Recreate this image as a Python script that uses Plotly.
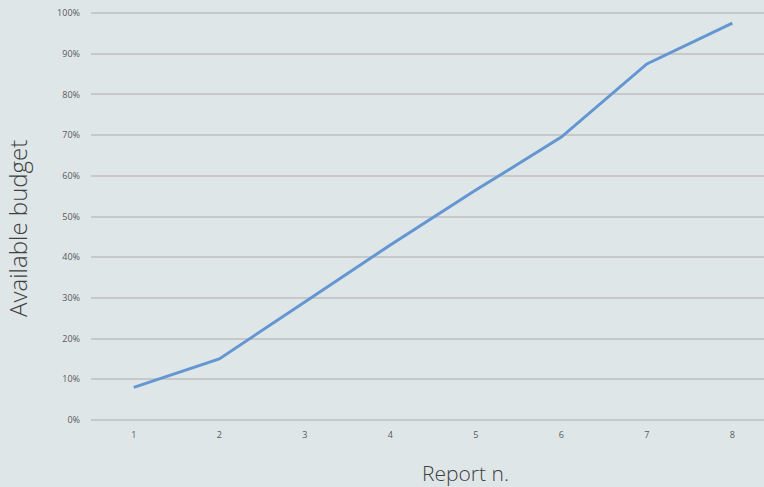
import plotly.graph_objects as go

reports = [1, 2, 3, 4, 5, 6, 7, 8]
budget_pct = [8, 15, 29, 43, 56.5, 69.5, 87.5, 97.5]
y_ticks = [0, 10, 20, 30, 40, 50, 60, 70, 80, 90, 100]
y_labels = [f"{v}%" for v in y_ticks]

bg = "#dfe6e8"
fig = go.Figure()
fig.add_trace(go.Scatter(
    x=reports, y=budget_pct, mode="lines",
    line=dict(color="#6497d2", width=3),
    hoverinfo="skip", showlegend=False,
))

fig.update_layout(
    width=764, height=487,
    paper_bgcolor=bg, plot_bgcolor=bg,
    margin=dict(l=91, r=0, t=11, b=65),
    font=dict(family="Open Sans", color="#595959"),
    xaxis=dict(
        range=[0.5, 8.37], tickvals=reports, ticktext=[str(r) for r in reports],
        showgrid=False, zeroline=False, showline=False,
        tickfont=dict(size=9, color="#595959"), ticks="",
        ticklabelstandoff=6,
    ),
    yaxis=dict(
        range=[-0.5, 100.5], tickvals=y_ticks, ticktext=y_labels,
        showgrid=True, gridcolor="#c6c8c9", gridwidth=1.5,
        zeroline=False, showline=False,
        tickfont=dict(size=9, color="#595959"), ticks="",
        ticklabelstandoff=10,
    ),
    annotations=[
        dict(text="Report n.", xref="paper", yref="paper", x=(465 - 91) / 673, y=-(473 - 11 - 411) / 411,
             xanchor="center", yanchor="middle", showarrow=False,
             font=dict(size=21, color="#404040", weight=300)),
        dict(text="Available budget", xref="paper", yref="paper", x=-(91 - 17) / 673, y=(487 - 65 - 229) / 411,
             xanchor="center", yanchor="middle", showarrow=False, textangle=-90,
             font=dict(size=24, color="#404040", weight=300)),
    ],
)
fig.write_html("out.html")
